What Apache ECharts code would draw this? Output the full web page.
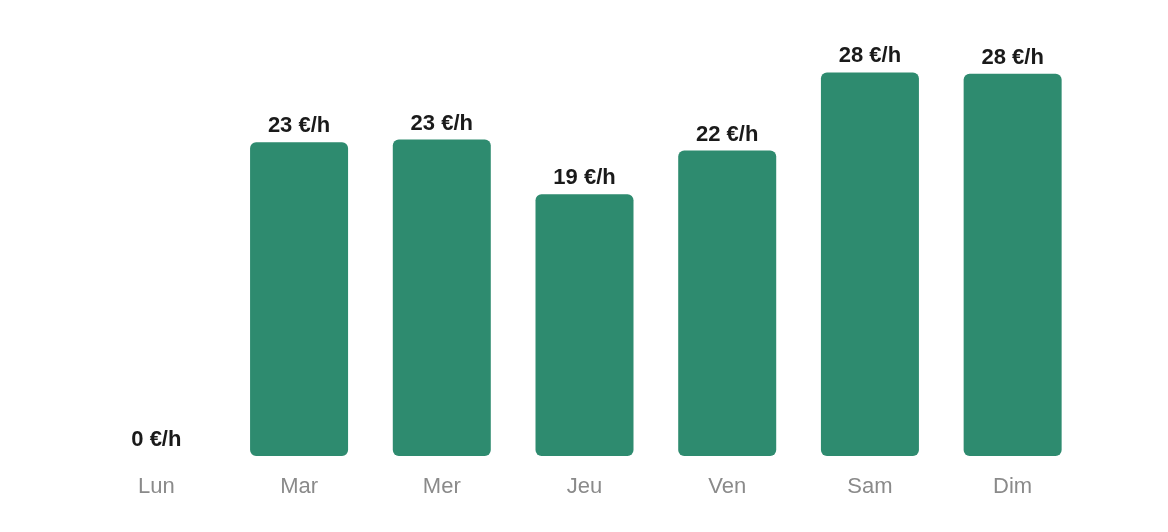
<!DOCTYPE html>
<html>
<head>
<meta charset="utf-8">
<script src="https://cdn.jsdelivr.net/npm/echarts@6/dist/echarts.min.js"></script>
<style>
  html, body { margin: 0; padding: 0; background: #fff; }
  #chart { width: 1168px; height: 532px; }
</style>
</head>
<body>
<div id="chart"></div>
<script>
// jours de la semaine et tarif horaire moyen (€/h)
const days = ['Lun', 'Mar', 'Mer', 'Jeu', 'Ven', 'Sam', 'Dim'];
const hourlyRate = [0, 22.9, 23.1, 19.1, 22.3, 28.0, 27.9];

const font = "'Liberation Sans', Arial, sans-serif";
const chart = echarts.init(document.getElementById('chart'));

chart.setOption({
  animation: false,
  grid: { left: 85, right: 84, top: 45, bottom: 76 },
  xAxis: {
    type: 'category',
    data: days,
    axisLine: { show: false },
    axisTick: { show: false },
    axisLabel: {
      color: '#8a8a8a',
      fontSize: 22,
      fontFamily: font,
      margin: 20
    }
  },
  yAxis: {
    type: 'value',
    min: 0,
    max: 30,
    show: false,
    splitLine: { show: false }
  },
  series: [{
    type: 'bar',
    data: hourlyRate,
    barWidth: 98,
    itemStyle: { color: '#2e8b6f', borderRadius: 6 },
    label: {
      show: true,
      position: 'top',
      distance: 5,
      color: '#1a1a1a',
      fontWeight: 'bold',
      fontSize: 22,
      fontFamily: font,
      formatter: (p) => Math.round(p.value) + ' €/h'
    }
  }]
});
</script>
</body>
</html>
